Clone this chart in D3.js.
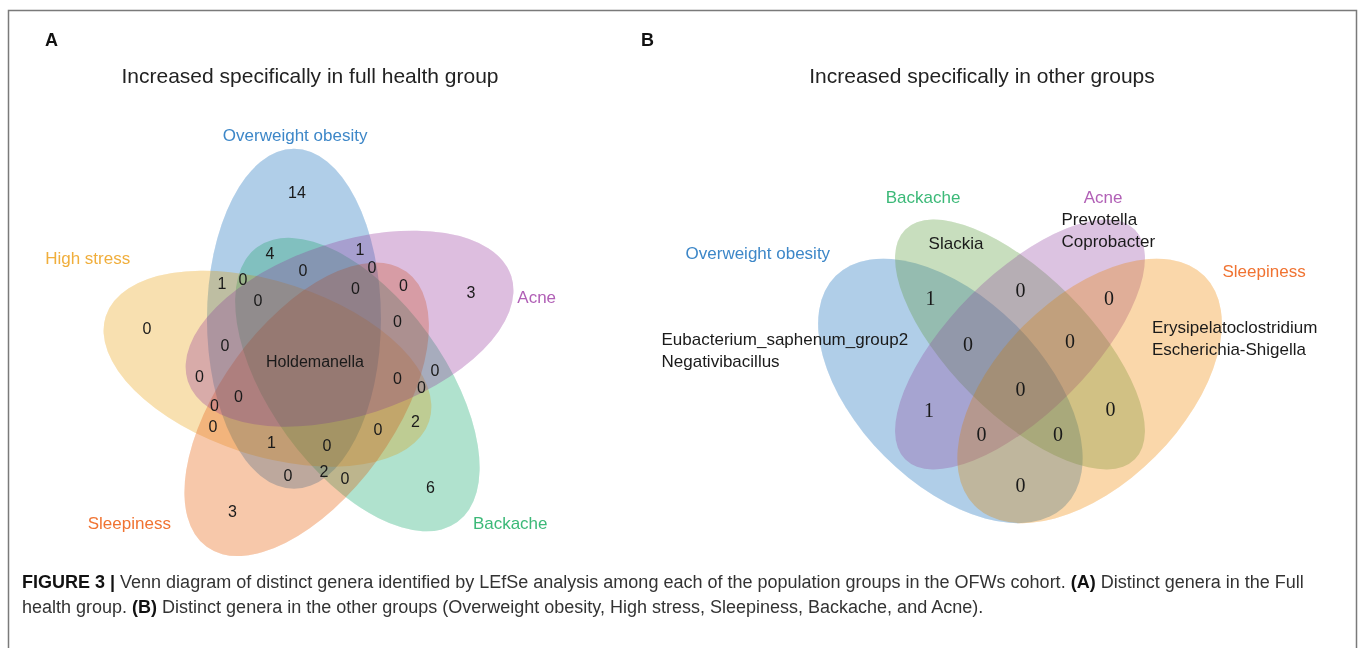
<!DOCTYPE html>
<html><head><meta charset="utf-8">
<script src="https://cdn.jsdelivr.net/npm/d3@7"></script>
<style>body{margin:0;background:#fff} text{font-family:"Liberation Sans",Arial,sans-serif}</style>
</head><body><svg id="chart" width="1360" height="648"></svg>
<script>
// ================= DATA =================
// Panel A: five sets; regions keyed by membership (order of setsA)
const setsA = ["Overweight obesity","Acne","Backache","Sleepiness","High stress"];
const regionsA = ["10000","01000","00100","00010","00001",
                  "11000","01100","00110","00011","10001",
                  "10100","01010","00101","10010","01001",
                  "11100","01110","00111","10011","11001",
                  "10101","11010","01101","10110","01011",
                  "11110","01111","10111","11011","11101",
                  "11111"];
const countsA  = ["14","3","6","3","0",
                  "1","0","0","0","1",
                  "4","0","2","0","0",
                  "0","0","0","1","0",
                  "0","0","0","2","0",
                  "0","0","0","0","0",
                  "Holdemanella"];
// Panel B: four sets
const setsB = ["Overweight obesity","Backache","Acne","Sleepiness"];
const regionsB = ["1100","0110","0011","1010","0101","1001","1110","0111","1011","1101","1111"];
const countsB  = ["1","0","0","1","0","0","0","0","0","0","0"];
const generaRegionsB = ["1000","0100","0010","0001"];
const generaB = [["Eubacterium_saphenum_group2","Negativibacillus"],["Slackia"],["Prevotella","Coprobacter"],["Erysipelatoclostridium","Escherichia-Shigella"]];
const titles = ["Increased specifically in full health group","Increased specifically in other groups"];
const panelLetters = ["A","B"];

// ================= STYLE / LAYOUT =================
const tintA  = ["#b0cee8","#ddbedf","#b0e2ce","#f7c8aa","#f8e0b0"];   // single-region tints
const labelColA = ["#3d87c8","#b160b6","#3cb978","#f07332","#f0ae3c"];
const drawOrderA = [0,2,4,3,1];
const tintB  = ["#b0cee8","#c8debe","#dcc3e1","#fad7aa"];
const labelColB = ["#3d87c8","#3cb978","#b160b6","#f07332"];
const svg = d3.select("#chart");

// Panel A geometry: 5 rotated ellipses around a centre
const gA = {cx:315, cy:362, d:48, phi0:244, tilt:26, a:170, b:87};
const ellA = tintA.map((c,i)=>{const phi=gA.phi0+72*i, r=phi*Math.PI/180;
  return {cx:gA.cx+gA.d*Math.cos(r), cy:gA.cy+gA.d*Math.sin(r), a:gA.a, b:gA.b, ang:phi+gA.tilt, tint:c};});
const catA = [[265,228],[343.7,231],[39.5,253],[139,246],[204.6,250]];   // label angle/distance

// Panel B geometry in unit coordinates through linear scales
const sB = 464;
const sx = d3.scaleLinear().domain([0,1]).range([788,788+sB]);
const sy = d3.scaleLinear().domain([0,1]).range([609,609-sB]);
const ellBdef = [[0.35,0.47,0.35,0.2,45],[0.5,0.57,0.35,0.15,45],[0.5,0.57,0.35,0.15,-45],[0.65,0.47,0.35,0.2,-45]];
const ellB = ellBdef.map((e,i)=>({cx:sx(e[0]),cy:sy(e[1]),a:e[2]*sB,b:e[3]*sB,ang:e[4],tint:tintB[i]}));
const catB = [[-0.065,0.767],[0.291,0.888],[0.679,0.888],[1.026,0.728]];
const generaLayout = [{dx:-206,dy:-5,anchor:"start"},{dx:-15,dy:-13,anchor:"middle"},{dx:-7,dy:-37,anchor:"start"},{dx:-20,dy:-17,anchor:"start"}];

// ================= HELPERS =================
function evalPoint(ells,x,y){
  let k="", dmin=Infinity;
  for (const e of ells){
    const r=e.ang*Math.PI/180, dx=x-e.cx, dy=y-e.cy;
    const u=dx*Math.cos(r)+dy*Math.sin(r), v=-dx*Math.sin(r)+dy*Math.cos(r);
    const q=u*u/(e.a*e.a)+v*v/(e.b*e.b), sq=Math.sqrt(q);
    k += q<1?"1":"0";
    const gr=Math.hypot(u/(e.a*e.a), v/(e.b*e.b))/Math.max(sq,1e-6);
    const dist=Math.abs(sq-1)/Math.max(gr,1e-9);
    if (dist<dmin) dmin=dist;
  }
  return {k,d:dmin};
}
// label anchor of each region: most interior point, with a slight pull towards the diagram centre
function regionAnchors(ells, pull){
  const xs=ells.flatMap(e=>[e.cx-e.a,e.cx+e.a]), ys=ells.flatMap(e=>[e.cy-e.a,e.cy+e.a]);
  const mx=d3.mean(ells,e=>e.cx), my=d3.mean(ells,e=>e.cy);
  const best={};
  for (let y=d3.min(ys); y<=d3.max(ys); y+=1.5) for (let x=d3.min(xs); x<=d3.max(xs); x+=1.5){
    const p=evalPoint(ells,x,y);
    if (!p.k.includes("1")) continue;
    const sc=p.d - pull*Math.hypot(x-mx,y-my);
    if (!best[p.k] || sc>best[p.k].s) best[p.k]={x,y,s:sc};
  }
  return best;
}
function ellAttrs(sel){
  return sel.attr("cx",d=>d.cx).attr("cy",d=>d.cy).attr("rx",d=>d.a).attr("ry",d=>d.b)
   .attr("transform",d=>`rotate(${d.ang},${d.cx},${d.cy})`);
}
// colour blend: half multiply, half 50% alpha layering
function drawEllipses(ells, order){
  const data = order.map(i=>ells[i]);
  const gm = svg.append("g").style("isolation","isolate");
  ellAttrs(gm.selectAll("ellipse").data(data).join("ellipse"))
    .attr("fill",d=>d.tint).style("mix-blend-mode","multiply");
  const ga = svg.append("g").attr("opacity",0.5);
  ellAttrs(ga.selectAll("ellipse.base").data(data).join("ellipse").attr("class","base")).attr("fill","#fff");
  ellAttrs(ga.selectAll("ellipse.lay").data(data).join("ellipse").attr("class","lay"))
    .attr("fill",d=>{const c=d3.rgb(d.tint); return d3.rgb(2*c.r-255,2*c.g-255,2*c.b-255);})
    .attr("fill-opacity",0.5);
}

// ================= FRAME =================
svg.append("path").attr("d","M8.5,700V10.5H1356.5V700").attr("fill","none").attr("stroke","#7a7a7a").attr("stroke-width",1.5);
svg.selectAll(".letter").data(panelLetters).join("text").attr("class","letter")
  .attr("x",(d,i)=>[45,641][i]).attr("y",46).style("font-size","18px").style("font-weight","bold").attr("fill","#111").text(d=>d);
svg.selectAll(".title").data(titles).join("text").attr("class","title")
  .attr("x",(d,i)=>[310,982][i]).attr("y",83).attr("text-anchor","middle").style("font-size","21px").attr("fill","#222").text(d=>d);

// ================= PANEL A =================
drawEllipses(ellA, drawOrderA);
const ancA = regionAnchors(ellA, 0.07);
svg.append("g").selectAll("text").data(regionsA).join("text")
  .attr("x",d=>ancA[d].x).attr("y",d=>ancA[d].y).attr("dy","0.35em").attr("text-anchor","middle")
  .style("font-size","16px").attr("fill","#1a1a1a").text((d,i)=>countsA[i]);
svg.append("g").selectAll("text").data(setsA).join("text")
  .attr("x",(d,i)=>gA.cx+catA[i][1]*Math.cos(catA[i][0]*Math.PI/180))
  .attr("y",(d,i)=>gA.cy+catA[i][1]*Math.sin(catA[i][0]*Math.PI/180))
  .attr("dy","0.35em").attr("text-anchor","middle").style("font-size","17px")
  .attr("fill",(d,i)=>labelColA[i]).text(d=>d);

// ================= PANEL B =================
drawEllipses(ellB, [0,1,2,3]);
const ancB = regionAnchors(ellB, 0);
svg.append("g").selectAll("text").data(regionsB).join("text")
  .attr("x",d=>ancB[d].x).attr("y",d=>ancB[d].y).attr("dy","0.35em").attr("text-anchor","middle")
  .style("font-family","'Liberation Serif','Times New Roman',serif").style("font-size","20px").attr("fill","#1a1a1a")
  .text((d,i)=>countsB[i]);
generaRegionsB.forEach((r,i)=>{
  const a=ancB[r], L=generaLayout[i];
  svg.append("g").selectAll("text").data(generaB[i]).join("text")
    .attr("x",a.x+L.dx).attr("y",(d,j)=>a.y+L.dy+j*22).attr("dy","0.35em").attr("text-anchor",L.anchor)
    .style("font-size","17px").attr("fill","#1a1a1a").text(d=>d);
});
svg.append("g").selectAll("text").data(setsB).join("text")
  .attr("x",(d,i)=>sx(catB[i][0])).attr("y",(d,i)=>sy(catB[i][1])).attr("dy","0.35em")
  .attr("text-anchor","middle").style("font-size","17px").attr("fill",(d,i)=>labelColB[i]).text(d=>d);

// ================= CAPTION =================
const captionLines = [
 [["FIGURE 3 |",true],[" Venn diagram of distinct genera identified by LEfSe analysis among each of the population groups in the OFWs cohort. ",false],["(A)",true],[" Distinct genera in the Full",false]],
 [["health group. ",false],["(B)",true],[" Distinct genera in the other groups (Overweight obesity, High stress, Sleepiness, Backache, and Acne).",false]]
];
captionLines.forEach((line,li)=>{
  const t=svg.append("text").attr("x",22).attr("y",588+li*25).style("font-size","18px").attr("fill","#333");
  line.forEach(seg=>t.append("tspan").style("font-weight",seg[1]?"bold":"normal").attr("fill",seg[1]?"#111":"#333").text(seg[0]));
});
</script></body></html>
